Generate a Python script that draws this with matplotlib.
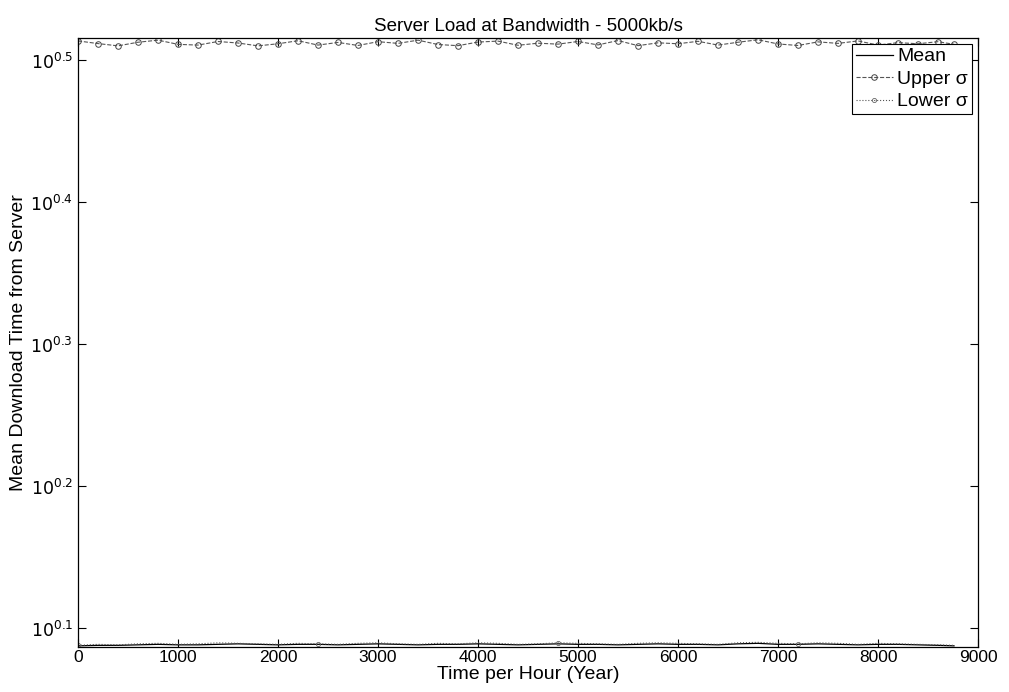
import numpy as np
import matplotlib
matplotlib.use("Agg")
import matplotlib.pyplot as plt
from matplotlib.ticker import FixedLocator, FixedFormatter, NullLocator

plt.rcParams["font.family"] = ["Liberation Sans", "DejaVu Sans"]

# hourly samples over one year (every 200 h)
hours = list(range(0, 8601, 200)) + [8760]

mean_time = [
    1.223, 1.224, 1.224, 1.225, 1.226, 1.225, 1.225, 1.226, 1.227,
    1.226, 1.225, 1.226, 1.226, 1.225, 1.226, 1.227, 1.226, 1.225,
    1.226, 1.226, 1.227, 1.226, 1.225, 1.226, 1.227, 1.226, 1.226,
    1.225, 1.226, 1.227, 1.226, 1.226, 1.225, 1.227, 1.228, 1.226,
    1.226, 1.227, 1.226, 1.225, 1.226, 1.226, 1.225, 1.224, 1.223,
]
upper_sigma = [
    3.262, 3.248, 3.236, 3.255, 3.266, 3.244, 3.240, 3.259, 3.251,
    3.236, 3.247, 3.263, 3.240, 3.254, 3.238, 3.258, 3.249, 3.266,
    3.243, 3.237, 3.256, 3.261, 3.239, 3.250, 3.245, 3.259, 3.241,
    3.264, 3.237, 3.252, 3.247, 3.260, 3.240, 3.255, 3.268, 3.246,
    3.238, 3.257, 3.249, 3.262, 3.240, 3.253, 3.247, 3.258, 3.244,
]
lower_sigma = [
    1.224, 1.226, 1.225, 1.227, 1.228, 1.226, 1.227, 1.229, 1.228,
    1.227, 1.226, 1.228, 1.227, 1.226, 1.228, 1.229, 1.227, 1.226,
    1.228, 1.227, 1.229, 1.228, 1.226, 1.227, 1.229, 1.228, 1.227,
    1.226, 1.228, 1.229, 1.228, 1.227, 1.226, 1.229, 1.230, 1.228,
    1.227, 1.229, 1.228, 1.226, 1.228, 1.227, 1.226, 1.225, 1.224,
]
ytick_exp = [0.1, 0.2, 0.3, 0.4, 0.5]

fig = plt.figure(figsize=(10.09, 6.92), dpi=100)
ax = fig.add_axes([0.0773, 0.065, 0.892, 0.880])

ax.plot(hours, mean_time, "-", color="black", lw=0.9, label="Mean")
ax.plot(hours, upper_sigma, "--", color="#555555", lw=0.8, marker="o",
        ms=4, mfc="none", mec="#444444", mew=0.7, label="Upper σ")
ax.plot(hours, lower_sigma, ":", color="#555555", lw=0.8, marker="o",
        ms=3, mfc="none", mec="#666666", mew=0.6, markevery=12, label="Lower σ")

ax.set_yscale("log")
ax.set_xlim(0, 9000)
ax.set_ylim(10 ** 0.0866, 10 ** 0.5155)
ax.set_xticks(range(0, 9001, 1000))
ax.yaxis.set_major_locator(FixedLocator([10 ** e for e in ytick_exp]))
ax.yaxis.set_major_formatter(FixedFormatter([f"$10^{{{e}}}$" for e in ytick_exp]))
ax.yaxis.set_minor_locator(NullLocator())

ax.tick_params(direction="in", top=True, right=True, labelsize=12.5, length=6)
ax.tick_params(axis="x", pad=2)
for s in ax.spines.values():
    s.set_linewidth(0.9)

ax.set_title("Server Load at Bandwidth - 5000kb/s", fontsize=13.5, pad=5)
ax.set_xlabel("Time per Hour (Year)", fontsize=14, labelpad=1)
ax.set_ylabel("Mean Download Time from Server", fontsize=14, labelpad=2)

leg = ax.legend(loc="upper right", fontsize=14, handlelength=1.9,
                fancybox=False, framealpha=1, edgecolor="black",
                borderaxespad=0.3, handletextpad=0.25, labelspacing=0.25,
                borderpad=0.2)
leg.get_frame().set_linewidth(0.8)

fig.savefig("out.png", dpi=100, facecolor="white")
